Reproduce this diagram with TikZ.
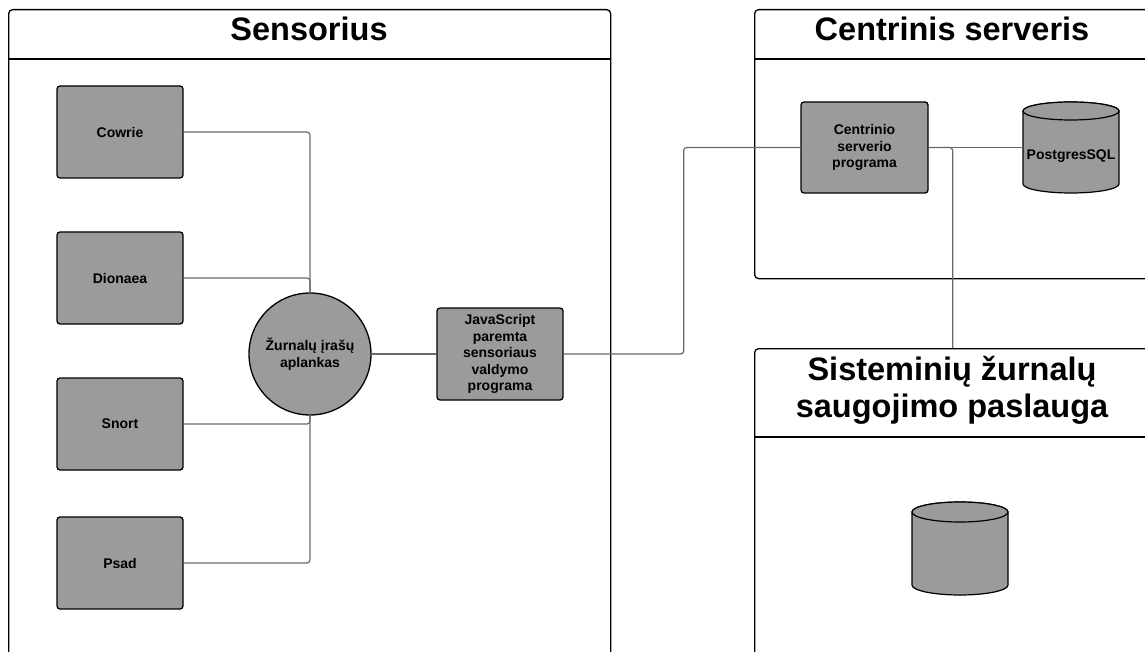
\documentclass[tikz,border=0pt]{standalone}
\usepackage{fontspec}
\setmainfont{Liberation Sans}
\definecolor{boxgray}{RGB}{155,155,155}
\definecolor{linegray}{RGB}{105,105,105}
\newcommand{\lbl}{\fontsize{14}{16.5}\selectfont\bfseries}
\newcommand{\ttl}{\fontsize{32.5}{37}\selectfont\bfseries}
\begin{document}
\begin{tikzpicture}[x=1pt,y=-1pt,
  frame/.style={draw=black, line width=1.3pt, rounded corners=4pt, inner sep=0pt, anchor=north west},
  frameline/.style={draw=black, line width=1.3pt},
  box/.style={draw=black, fill=boxgray, line width=1.3pt, rounded corners=3pt, minimum width=126pt, minimum height=92pt, inner sep=0pt, align=center, font=\lbl, text=black},
  conn/.style={draw=linegray, line width=1.2pt, rounded corners=3pt},
  cyl/.style={draw=black, fill=boxgray, line width=1.2pt},
  title/.style={font=\ttl, align=center, text=black, inner sep=0pt}]
\useasboundingbox (0,0) rectangle (1145,652);
\clip (0,0) rectangle (1145,652);
\fill[white] (0,0) rectangle (1145,652);

% frames
\node[frame, minimum width=602pt, minimum height=700pt] (sens) at (8,9) {};
\draw[frameline] ([yshift=-50pt]sens.north west) -- ([yshift=-50pt]sens.north east);
\node[title, anchor=base] (sensT) at (309,41) {Sensorius};

\node[frame, minimum width=396pt, minimum height=269pt] (cent) at (754,9) {};
\draw[frameline] ([yshift=-50pt]cent.north west) -- ([yshift=-50pt]cent.north east);
\node[title, anchor=base] (centT) at (952,41) {Centrinis serveris};

\node[frame, minimum width=396pt, minimum height=400pt] (sist) at (754,348) {};
\draw[frameline] ([yshift=-89pt]sist.north west) -- ([yshift=-89pt]sist.north east);
\node[title] (sistT) at (952,390) {Sisteminių žurnalų\\saugojimo paslauga};

% sensor nodes
\node[box] (cowrie) at (120,132) {Cowrie};
\node[box] (dionaea) at (120,278) {Dionaea};
\node[box] (snort) at (120,424) {Snort};
\node[box] (psad) at (120,563) {Psad};
\node[draw=black, fill=boxgray, line width=1.3pt, circle, minimum size=122pt, inner sep=0pt, align=center, font=\lbl] (folder) at (310,354) {Žurnalų įrašų\\aplankas};
\node[box, minimum height=92pt] (js) at (500,354) {JavaScript\\paremta\\sensoriaus\\valdymo\\programa};

% central server
\node[box, minimum width=127pt, minimum height=91pt] (cen) at (864.5,147.5) {Centrinio\\serverio\\programa};
\path[cyl] (1023,111) -- (1023,184) arc[start angle=180, end angle=360, x radius=48pt, y radius=9pt] -- (1119,111) arc[start angle=0, end angle=180, x radius=48pt, y radius=9pt] -- cycle;
\draw[cyl] (1071,111) ellipse[x radius=48pt, y radius=9pt];
\node[minimum width=96pt, minimum height=91pt, inner sep=0pt] (pg) at (1071,147.5) {};
\node[font=\lbl, inner sep=0pt] (pgT) at (1071,156) {PostgresSQL};

% log storage cylinder
\path[cyl] (912,512) -- (912,585) arc[start angle=180, end angle=360, x radius=48pt, y radius=10pt] -- (1008,512) arc[start angle=0, end angle=180, x radius=48pt, y radius=10pt] -- cycle;
\draw[cyl] (960,512) ellipse[x radius=48pt, y radius=10pt];

% connectors
\draw[conn] (cowrie.east) -| (folder.north);
\draw[conn] (dionaea.east) -| (folder.north);
\draw[conn] (snort.east) -| (folder.south);
\draw[conn] (psad.east) -| (folder.south);
\draw[conn] (folder.east) -- (js.west);
\draw[conn] (js.east) -- ++(120,0) |- (cen.west);
\draw[conn] (cen.east) -- (pg.west);
\draw[conn] (cen.east) -| (sist.north);
\end{tikzpicture}
\end{document}
